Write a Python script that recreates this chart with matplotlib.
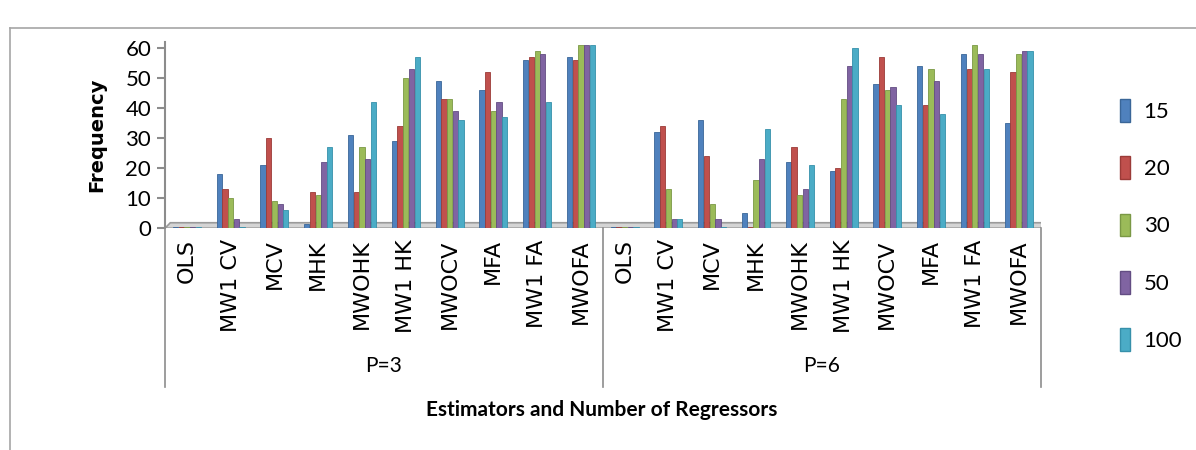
import numpy as np
import matplotlib
matplotlib.use("Agg")
import matplotlib.pyplot as plt
from matplotlib.patches import Patch, Polygon
from matplotlib.lines import Line2D
import matplotlib.transforms as mtransforms

# Data
estimators = ["OLS", "MW1 CV", "MCV", "MHK", "MWOHK", "MW1 HK", "MWOCV", "MFA", "MW1 FA", "MWOFA"]
groups = ["P=3", "P=6"]
series_names = ["15", "20", "30", "50", "100"]

n15 = [0.5, 18, 21, 1.5, 31, 29, 49, 46, 56, 57,
       0.5, 32, 36, 5, 22, 19, 48, 54, 58, 35]
n20 = [0.5, 13, 30, 12, 12, 34, 43, 52, 57, 56,
       0.5, 34, 24, 0.5, 27, 20, 57, 41, 53, 52]
n30 = [0.5, 10, 9, 11, 27, 50, 43, 39, 59, 61,
       0.5, 13, 8, 16, 11, 43, 46, 53, 61, 58]
n50 = [0.5, 3, 8, 22, 23, 53, 39, 42, 58, 61,
       0.5, 3, 3, 23, 13, 54, 47, 49, 58, 59]
n100 = [0.5, 0.5, 6, 27, 42, 57, 36, 37, 42, 61,
        0.5, 3, 0.5, 33, 21, 60, 41, 38, 53, 59]

colors = ["#4F81BD", "#C0504D", "#9BBB59", "#8064A2", "#4BACC6"]
edges = ["#3A6698", "#9B3B38", "#7A9845", "#634D83", "#3690AA"]

fig = plt.figure(figsize=(11.96, 4.5), dpi=100)
ax = fig.add_axes([0.138, 0.493, 0.732, 0.414])

labels = estimators * len(groups)
x = np.arange(len(labels))
w = 0.13
all_series = [n15, n20, n30, n50, n100]
for i, vals in enumerate(all_series):
    ax.bar(x + (i - 2) * w, vals, width=w * 0.92, color=colors[i],
           edgecolor=edges[i], linewidth=0.6, zorder=3)

# floor slab
floor = Polygon([(-0.5, 0), (19.5, 0), (19.62, 1.8), (-0.38, 1.8)],
                closed=True, facecolor="#d4d4d4", edgecolor="#9a9a9a",
                linewidth=1.2, zorder=2)
ax.add_patch(floor)

ax.set_xlim(-0.5, 19.5)
ax.set_ylim(0, 62)
ax.set_yticks([0, 10, 20, 30, 40, 50, 60])
ax.set_yticklabels(["0", "10", "20", "30", "40", "50", "60"],
                   fontsize=16, family="Lato")
ax.tick_params(axis="y", length=6, width=1.5, color="#8c8c8c", pad=4)
ax.set_xticks(x)
ax.set_xticklabels(labels, rotation=90, fontsize=16, family="DejaVu Sans")
ax.tick_params(axis="x", length=0, pad=8)

for s in ["top", "right", "bottom"]:
    ax.spines[s].set_visible(False)
ax.spines["left"].set_color("#8c8c8c")
ax.spines["left"].set_linewidth(1.5)

ax.set_ylabel("Frequency", fontsize=14, fontweight="bold", family="DejaVu Sans", labelpad=14)

# group separators and labels
trans = mtransforms.blended_transform_factory(ax.transData, ax.transAxes)
for xs in [-0.5, 9.5, 19.5]:
    ax.add_line(Line2D([xs, xs], [0, -0.85], transform=trans, color="#8c8c8c",
                       linewidth=1.2, clip_on=False))
for gi, g in enumerate(groups):
    ax.text(gi * 10 + 4.5, -0.74, g, transform=trans, ha="center", va="center",
            fontsize=15, family="Lato")

fig.text(0.503, 0.088, "Estimators and Number of Regressors", ha="center", va="center",
         fontsize=15, fontweight="bold", family="Lato")

handles = [Patch(facecolor=c, edgecolor=e) for c, e in zip(colors, edges)]
fig.legend(handles, series_names, loc="center left", bbox_to_anchor=(0.92, 0.5),
           frameon=False, handlelength=0.45, handleheight=1.2,
           labelspacing=1.55, handletextpad=0.6, prop={"family": "Lato", "size": 16})

# outer chart frame
fig.add_artist(Line2D([10 / 1196, 1.0], [1 - 28 / 450, 1 - 28 / 450],
                      transform=fig.transFigure, color="#a6a6a6", linewidth=1.2))
fig.add_artist(Line2D([10 / 1196, 10 / 1196], [0, 1 - 28 / 450],
                      transform=fig.transFigure, color="#a6a6a6", linewidth=1.2))

fig.savefig("out.png", dpi=100)
